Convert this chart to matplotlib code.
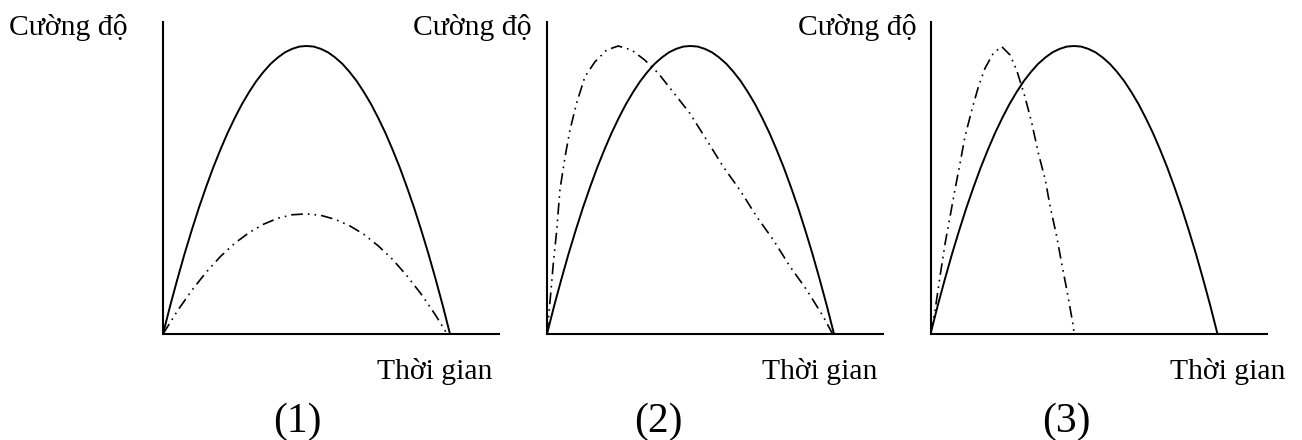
import matplotlib
matplotlib.use("Agg")
import matplotlib.pyplot as plt

plt.rcParams['font.family'] = ['Liberation Serif', 'DejaVu Serif']

# solid curve, same in all three panels
solid_x = [0, 0.25, 0.5, 0.75, 1, 1.25, 1.5, 1.75, 2, 2.25, 2.5, 2.75, 3, 3.25, 3.5, 3.75, 4, 4.25, 4.5, 4.75,
           5, 5.25, 5.5, 5.75, 6, 6.25, 6.5, 6.75, 7, 7.25, 7.5, 7.75, 8, 8.25, 8.5, 8.75, 9, 9.25, 9.5, 9.75, 10]
solid_y = [0, 0.98, 1.9, 2.78, 3.6, 4.38, 5.1, 5.78, 6.4, 6.98, 7.5, 7.98, 8.4, 8.78, 9.1, 9.38, 9.6, 9.78, 9.9, 9.98,
           10, 9.98, 9.9, 9.78, 9.6, 9.38, 9.1, 8.78, 8.4, 7.98, 7.5, 6.98, 6.4, 5.78, 5.1, 4.38, 3.6, 2.78, 1.9, 0.98, 0]

# dash-dot-dot curves
dash1_x = [0, 0.5, 1, 1.5, 2, 2.5, 3, 3.5, 4, 4.5, 5, 5.5, 6, 6.5, 7, 7.5, 8, 8.5, 9, 9.5, 9.9]
dash1_y = [0, 0.80, 1.51, 2.14, 2.69, 3.15, 3.52, 3.81, 4.02, 4.14, 4.17, 4.12, 3.98, 3.76, 3.46, 3.06, 2.59, 2.02, 1.38, 0.65, 0]

dash2_x = [0, 0.10, 0.22, 0.34, 0.45, 0.63, 0.80, 1.03, 1.32, 1.67, 2.08, 2.48, 2.95, 3.41, 3.88, 4.34,
           4.98, 5.56, 6.14, 6.72, 7.31, 7.89, 8.47, 9.05, 9.63, 9.95]
dash2_y = [0, 1.07, 2.45, 3.61, 5.0, 6.16, 7.08, 8.01, 8.93, 9.45, 9.86, 10.0, 9.86, 9.51, 9.05, 8.47,
           7.66, 6.74, 5.81, 5.0, 4.07, 3.26, 2.34, 1.53, 0.6, 0]

dash3_x = [0, 0.16, 0.33, 0.51, 0.68, 0.85, 1.03, 1.20, 1.44, 1.67, 1.90, 2.19, 2.48, 2.77, 3.0,
           3.29, 3.53, 3.76, 4.0, 4.17, 4.40, 4.57, 4.75, 4.98, 5.0]
dash3_y = [0, 0.83, 1.99, 3.15, 4.07, 5.0, 5.93, 6.85, 7.78, 8.59, 9.23, 9.75, 9.98, 9.69, 9.17,
           8.24, 7.32, 6.27, 5.35, 4.42, 3.38, 2.45, 1.53, 0.25, 0]

dashes = [(dash1_x, dash1_y), (dash2_x, dash2_y), (dash3_x, dash3_y)]
panel_names = ["(1)", "(2)", "(3)"]

W, H = 1302, 440
fig = plt.figure(figsize=(W / 100, H / 100), dpi=100)

# pixel layout of each panel: axis origin x, end of x axis
lefts = [163, 547, 930.5]
rights = [499, 883, 1267]
ylabel_pos = [(9, 'left'), (532, 'right'), (917, 'right')]
xlabel_right = [492, 877, 1285]
name_x = [297.5, 658, 1066]

for i in range(3):
    l, r = lefts[i], rights[i]
    ax = fig.add_axes([l / W, (H - 334) / H, (r - l) / W, 312 / H])
    ax.set_xlim(0, (r - l) / 28.7)
    ax.set_ylim(0, 312 / 28.8)
    ax.plot(solid_x, solid_y, color='black', lw=1.4, solid_joinstyle='round')
    dx, dy = dashes[i]
    ax.plot(dx, dy, color='black', lw=1.2, linestyle=(0, (7, 3, 1, 3, 1, 3)),
            dash_joinstyle='round')
    for s in ['top', 'right']:
        ax.spines[s].set_visible(False)
    for s in ['left', 'bottom']:
        ax.spines[s].set_linewidth(1.5)
    ax.set_xticks([])
    ax.set_yticks([])

    fig.text(ylabel_pos[i][0] / W, 1 - 35 / H, "Cường độ", fontsize=21.3,
             ha=ylabel_pos[i][1], va='baseline')
    fig.text(xlabel_right[i] / W, 1 - 379 / H, "Thời gian", fontsize=21.3,
             ha='right', va='baseline')
    fig.text(name_x[i] / W, 1 - 432 / H, panel_names[i], fontsize=30,
             ha='center', va='baseline')

fig.savefig("out.png", dpi=100)
